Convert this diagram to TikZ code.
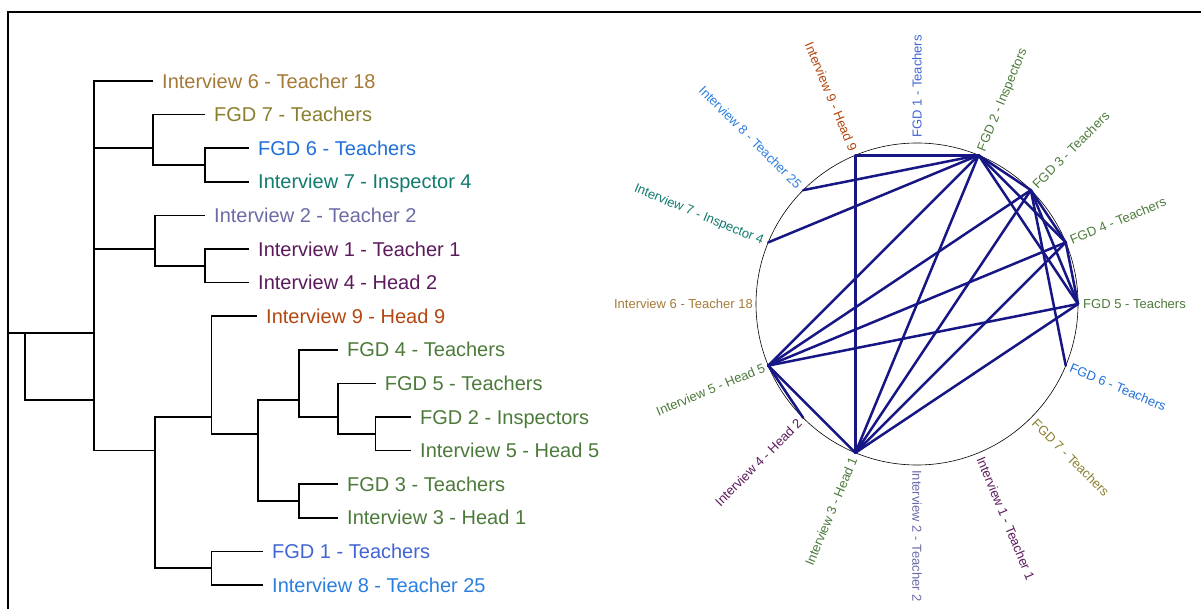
\documentclass[tikz,border=0pt]{standalone}
\usepackage{fontspec}
\setmainfont{Liberation Sans}
\usetikzlibrary{calc}
\definecolor{cInt6}{HTML}{A47A36}
\definecolor{cFGD7}{HTML}{8A7E2C}
\definecolor{cFGD6}{HTML}{1F6FD8}
\definecolor{cInt7}{HTML}{127A6E}
\definecolor{cInt2}{HTML}{6B6BA6}
\definecolor{cPurp}{HTML}{5C1A5C}
\definecolor{cInt9}{HTML}{B3470F}
\definecolor{cGreen}{HTML}{4C7A3A}
\definecolor{cFGD1}{HTML}{4064D2}
\definecolor{cInt8}{HTML}{2A7EE0}
\definecolor{cNavy}{RGB}{22,22,132}
\begin{document}
\begin{tikzpicture}[x=1pt,y=1pt,
  branch/.style={line width=1.5pt, black, line join=miter},
  leaflab/.style={anchor=west, inner sep=0pt, font=\fontsize{20}{21}\selectfont, text height=14.3pt, text depth=0pt},
  circlab/.style={inner sep=0pt, font=\fontsize{13}{14}\selectfont, text height=9.3pt, text depth=0pt},
  netedge/.style={line width=2.5pt, cNavy, line cap=round},
]
\useasboundingbox (0,0) rectangle (1201,608);
\draw[line width=1.8pt] (8,-20) -- (8,596) -- (1220,596);

% ---------------- dendrogram ----------------
\coordinate (R0) at (8,275);
\coordinate (R) at (25,275);
\coordinate (A) at (94,476.6);
\coordinate (K) at (153,459.8);
\coordinate (L) at (205,443);
\coordinate (BC) at (94,207.8);
\coordinate (B) at (155,359);
\coordinate (M) at (205,342.2);
\coordinate (C) at (155,157.4);
\coordinate (D) at (211.5,191);
\coordinate (E) at (211.5,39.8);
\coordinate (F) at (258,174.2);
\coordinate (G) at (299,207.8);
\coordinate (H) at (299,107);
\coordinate (I) at (338,191);
\coordinate (J) at (375.6,174.2);

\coordinate (l1) at (153,527);
\coordinate (l2) at (205,493.4);
\coordinate (l3) at (249,459.8);
\coordinate (l4) at (249,426.2);
\coordinate (l5) at (205,392.6);
\coordinate (l6) at (249,359);
\coordinate (l7) at (249,325.4);
\coordinate (l8) at (257,291.8);
\coordinate (l9) at (338,258.2);
\coordinate (l10) at (375.6,224.6);
\coordinate (l11) at (411,191);
\coordinate (l12) at (411,157.4);
\coordinate (l13) at (338,123.8);
\coordinate (l14) at (338,90.2);
\coordinate (l15) at (263,56.6);
\coordinate (l16) at (263,23);

\draw[branch] (R0) -- (R);
\draw[branch] (A) |- (R) |- (BC);
\draw[branch] (l1) -| (A) |- (K);
\draw[branch] (l2) -| (K) |- (L);
\draw[branch] (l3) -| (L) |- (l4);
\draw[branch] (B) -| (BC) |- (C);
\draw[branch] (l5) -| (B) |- (M);
\draw[branch] (l6) -| (M) |- (l7);
\draw[branch] (D) -| (C) |- (E);
\draw[branch] (l8) -| (D) |- (F);
\draw[branch] (G) -| (F) |- (H);
\draw[branch] (l9) -| (G) |- (I);
\draw[branch] (l10) -| (I) |- (J);
\draw[branch] (l11) -| (J) |- (l12);
\draw[branch] (l13) -| (H) |- (l14);
\draw[branch] (l15) -| (E) |- (l16);

\node[leaflab, text=cInt6]  (t1)  at ($(l1)+(9,0)$)  {Interview 6 - Teacher 18};
\node[leaflab, text=cFGD7]  (t2)  at ($(l2)+(9,0)$)  {FGD 7 - Teachers};
\node[leaflab, text=cFGD6]  (t3)  at ($(l3)+(9,0)$)  {FGD 6 - Teachers};
\node[leaflab, text=cInt7]  (t4)  at ($(l4)+(9,0)$)  {Interview 7 - Inspector 4};
\node[leaflab, text=cInt2]  (t5)  at ($(l5)+(9,0)$)  {Interview 2 - Teacher 2};
\node[leaflab, text=cPurp]  (t6)  at ($(l6)+(9,0)$)  {Interview 1 - Teacher 1};
\node[leaflab, text=cPurp]  (t7)  at ($(l7)+(9,0)$)  {Interview 4 - Head 2};
\node[leaflab, text=cInt9]  (t8)  at ($(l8)+(9,0)$)  {Interview 9 - Head 9};
\node[leaflab, text=cGreen] (t9)  at ($(l9)+(9,0)$)  {FGD 4 - Teachers};
\node[leaflab, text=cGreen] (t10) at ($(l10)+(9,0)$) {FGD 5 - Teachers};
\node[leaflab, text=cGreen] (t11) at ($(l11)+(9,0)$) {FGD 2 - Inspectors};
\node[leaflab, text=cGreen] (t12) at ($(l12)+(9,0)$) {Interview 5 - Head 5};
\node[leaflab, text=cGreen] (t13) at ($(l13)+(9,0)$) {FGD 3 - Teachers};
\node[leaflab, text=cGreen] (t14) at ($(l14)+(9,0)$) {Interview 3 - Head 1};
\node[leaflab, text=cFGD1]  (t15) at ($(l15)+(9,0)$) {FGD 1 - Teachers};
\node[leaflab, text=cInt8]  (t16) at ($(l16)+(9,0)$) {Interview 8 - Teacher 25};

% ---------------- circular network ----------------
\coordinate (O) at (917,304);
\draw[line width=0.6pt] (O) circle (161);

\coordinate (pF5) at ($(O)+(0:161)$);
\coordinate (pF4) at ($(O)+(22.5:161)$);
\coordinate (pF3) at ($(O)+(45:161)$);
\coordinate (pF2) at ($(O)+(67.5:161)$);
\coordinate (pF1) at ($(O)+(90:161)$);
\coordinate (pI9) at ($(O)+(112.5:161)$);
\coordinate (pI8) at ($(O)+(135:161)$);
\coordinate (pI7) at ($(O)+(157.5:161)$);
\coordinate (pI6) at ($(O)+(180:161)$);
\coordinate (pI5) at ($(O)+(202.5:161)$);
\coordinate (pI4) at ($(O)+(225:161)$);
\coordinate (pI3) at ($(O)+(247.5:161)$);
\coordinate (pI2) at ($(O)+(270:161)$);
\coordinate (pI1) at ($(O)+(292.5:161)$);
\coordinate (pF7) at ($(O)+(315:161)$);
\coordinate (pF6) at ($(O)+(337.5:161)$);

\foreach \a/\b in {pF2/pI9,pF2/pI8,pF2/pI7,pF2/pI5,pF2/pI3,pF2/pF3,pF2/pF4,pF2/pF5,
  pF3/pI5,pF3/pI3,pF3/pF4,pF3/pF5,pF3/pF6,
  pF4/pI5,pF4/pI3,pF4/pF5,
  pF5/pI5,pF5/pI3,
  pI5/pI4,pI5/pI3,pI9/pI3}
  \draw[netedge] (\a) -- (\b);

\node[circlab, text=cGreen, anchor=west, rotate=0]     (cF5) at ($(O)+(0:166)$)    {FGD 5 - Teachers};
\node[circlab, text=cGreen, anchor=west, rotate=22.5]  (cF4) at ($(O)+(22.5:166)$) {FGD 4 - Teachers};
\node[circlab, text=cGreen, anchor=west, rotate=45]    (cF3) at ($(O)+(45:166)$)   {FGD 3 - Teachers};
\node[circlab, text=cGreen, anchor=west, rotate=67.5]  (cF2) at ($(O)+(67.5:166)$) {FGD 2 - Inspectors};
\node[circlab, text=cFGD1,  anchor=west, rotate=90]    (cF1) at ($(O)+(90:166)$)   {FGD 1 - Teachers};
\node[circlab, text=cInt9,  anchor=east, rotate=-67.5] (cI9) at ($(O)+(112.5:166)$) {Interview 9 - Head 9};
\node[circlab, text=cInt8,  anchor=east, rotate=-45]   (cI8) at ($(O)+(135:166)$)  {Interview 8 - Teacher 25};
\node[circlab, text=cInt7,  anchor=east, rotate=-22.5] (cI7) at ($(O)+(157.5:166)$) {Interview 7 - Inspector 4};
\node[circlab, text=cInt6,  anchor=east, rotate=0]     (cI6) at ($(O)+(180:164)$)  {Interview 6 - Teacher 18};
\node[circlab, text=cGreen, anchor=east, rotate=22.5]  (cI5) at ($(O)+(202.5:165)$) {Interview 5 - Head 5};
\node[circlab, text=cPurp,  anchor=east, rotate=45]    (cI4) at ($(O)+(225:166)$)  {Interview 4 - Head 2};
\node[circlab, text=cGreen, anchor=east, rotate=67.5]  (cI3) at ($(O)+(247.5:166)$) {Interview 3 - Head 1};
\node[circlab, text=cInt2,  anchor=west, rotate=-90]   (cI2) at ($(O)+(270:166)$)  {Interview 2 - Teacher 2};
\node[circlab, text=cPurp,  anchor=west, rotate=-67.5] (cI1) at ($(O)+(292.5:166)$) {Interview 1 - Teacher 1};
\node[circlab, text=cFGD7,  anchor=west, rotate=-45]   (cF7) at ($(O)+(315:166)$)  {FGD 7 - Teachers};
\node[circlab, text=cFGD6,  anchor=west, rotate=-22.5] (cF6) at ($(O)+(337.5:166)$) {FGD 6 - Teachers};
\end{tikzpicture}
\end{document}
